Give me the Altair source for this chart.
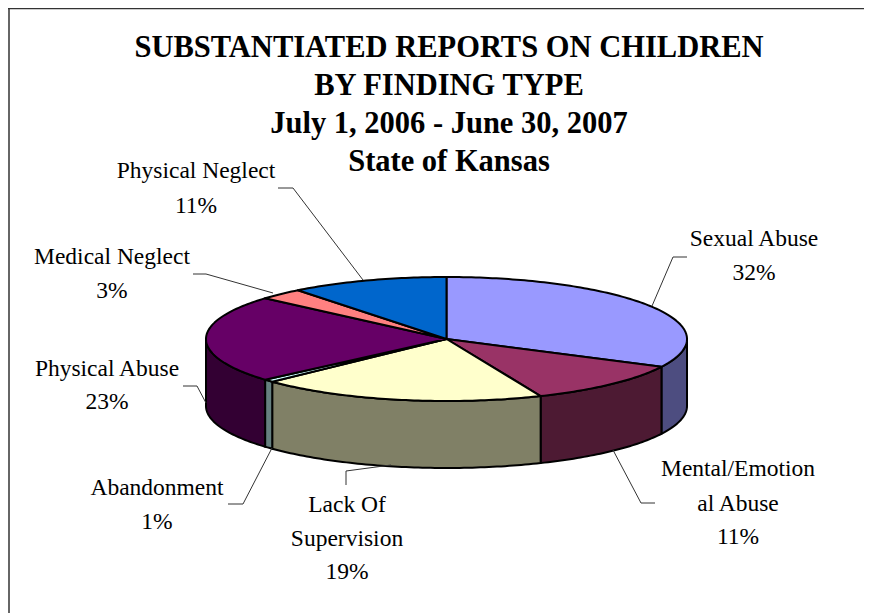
import math
import altair as alt
import pandas as pd

# --- values ---
categories = ["Sexual Abuse", "Mental/Emotional Abuse", "Lack Of Supervision", "Abandonment",
              "Physical Abuse", "Medical Neglect", "Physical Neglect"]
shares = [32.4, 11.2, 19.3, 0.7, 22.8, 3.0, 10.6]
top_colors = ["#9999FF", "#993366", "#FFFFCC", "#CCFFFF", "#660066", "#FF8080", "#0066CC"]
side_colors = ["#4D4D80", "#4D1A33", "#808066", "#668080", "#330033", "#804040", "#003366"]
title_lines = ["SUBSTANTIATED REPORTS ON CHILDREN", "BY FINDING TYPE",
               "July 1, 2006 - June 30, 2007", "State of Kansas"]
label_lines = [
    ("Sexual Abuse", 754, 239), ("32%", 754, 273),
    ("Mental/Emotion", 738, 469), ("al Abuse", 738, 504), ("11%", 738, 537),
    ("Lack Of", 347, 505), ("Supervision", 347, 539), ("19%", 347, 572),
    ("Abandonment", 157, 488), ("1%", 157, 522),
    ("Physical Abuse", 107, 369), ("23%", 107, 402),
    ("Medical Neglect", 112, 257), ("3%", 112, 291),
    ("Physical Neglect", 196, 171), ("11%", 196, 206),
]
leaders = [
    [(687, 257), (673, 257), (652, 306)],
    [(655, 503), (641, 503), (613, 450)],
    [(346, 485), (346, 471), (391, 465)],
    [(228, 504), (243, 504), (272, 448)],
    [(183, 386), (197, 386), (206, 403)],
    [(193, 274), (206, 274), (273, 293)],
    [(278, 188), (293, 188), (363, 280)],
]

# --- pie geometry, in picture pixels ---
W, H = 856, 605
CX, CY, RX, RY, DEPTH = 446.5, 339.0, 240.5, 62.0, 67.0


def pt(deg, drop=0.0):
    r = math.radians(deg)
    return CX + RX * math.sin(r), CY - RY * math.cos(r) + drop


def steps(a, b):
    n = max(2, int(abs(b - a)) + 2)
    return [a + (b - a) * i / (n - 1) for i in range(n)]


polys = []
start = 0.0
tops = []
for cat, share, tc, sc in zip(categories, shares, top_colors, side_colors):
    end = start + share * 3.6
    lo, hi = max(start, 90.0), min(end, 270.0)
    if lo < hi:
        arc = steps(lo, hi)
        pts = [pt(a) for a in arc] + [pt(a, DEPTH) for a in reversed(arc)]
        pts.append(pts[0])
        polys.append((cat + " side", sc, pts))
    wedge = [(CX, CY)] + [pt(a) for a in steps(start, end)] + [(CX, CY)]
    tops.append((cat + " top", tc, wedge))
    start = end
polys += tops

rows = []
for order, (name, color, pts) in enumerate(polys):
    for i, (x, y) in enumerate(pts):
        rows.append({"poly": f"{order:02d} {name}", "i": i, "x": x, "y": y})
poly_df = pd.DataFrame(rows)

x_scale = alt.Scale(domain=[8, 8 + W], nice=False, zero=False)
y_scale = alt.Scale(domain=[8 + H, 8], nice=False, zero=False)
X = alt.X("x:Q", scale=x_scale, axis=None)
Y = alt.Y("y:Q", scale=y_scale, axis=None)

slices = alt.Chart(poly_df).mark_line(stroke="#000000", strokeWidth=2, strokeJoin="round").encode(
    x=X, y=Y, order="i:Q", detail="poly:N",
    fill=alt.Fill("poly:N", legend=None,
                  scale=alt.Scale(domain=[f"{k:02d} {p[0]}" for k, p in enumerate(polys)],
                                  range=[p[1] for p in polys])),
)

leader_df = pd.DataFrame([
    {"lead": k, "i": i, "x": x, "y": y}
    for k, line in enumerate(leaders) for i, (x, y) in enumerate(line)
])
leader_layer = alt.Chart(leader_df).mark_line(color="#333333", strokeWidth=1).encode(
    x=X, y=Y, order="i:Q", detail="lead:N")

label_df = pd.DataFrame(label_lines, columns=["text", "x", "y"])
labels = alt.Chart(label_df).mark_text(
    font="Liberation Serif", fontSize=23.5, color="#000000", align="center", baseline="middle"
).encode(x=X, y=Y, text="text:N")

top_border = alt.Chart().mark_rule(color="#333333", strokeWidth=1.5).encode(
    x=alt.value(0), x2=alt.value(W), y=alt.value(0.5))
left_border = alt.Chart().mark_rule(color="#333333", strokeWidth=1.5).encode(
    x=alt.value(1), y=alt.value(0), y2=alt.value(H))

chart = alt.layer(
    top_border, left_border, slices, leader_layer, labels
).properties(
    width=W, height=H, padding=0, autosize=alt.AutoSizeParams(type="none"), background="#FFFFFF",
    title=alt.TitleParams(
        text=title_lines, font="Liberation Serif", fontSize=30.5, fontWeight="bold", color="#000000",
        anchor="middle", frame="group", baseline="top", lineHeight=38, dx=13, dy=170, offset=0,
    ),
).configure_view(stroke=None)

chart.save("out.html", embed_options={"renderer": "svg", "actions": False})
